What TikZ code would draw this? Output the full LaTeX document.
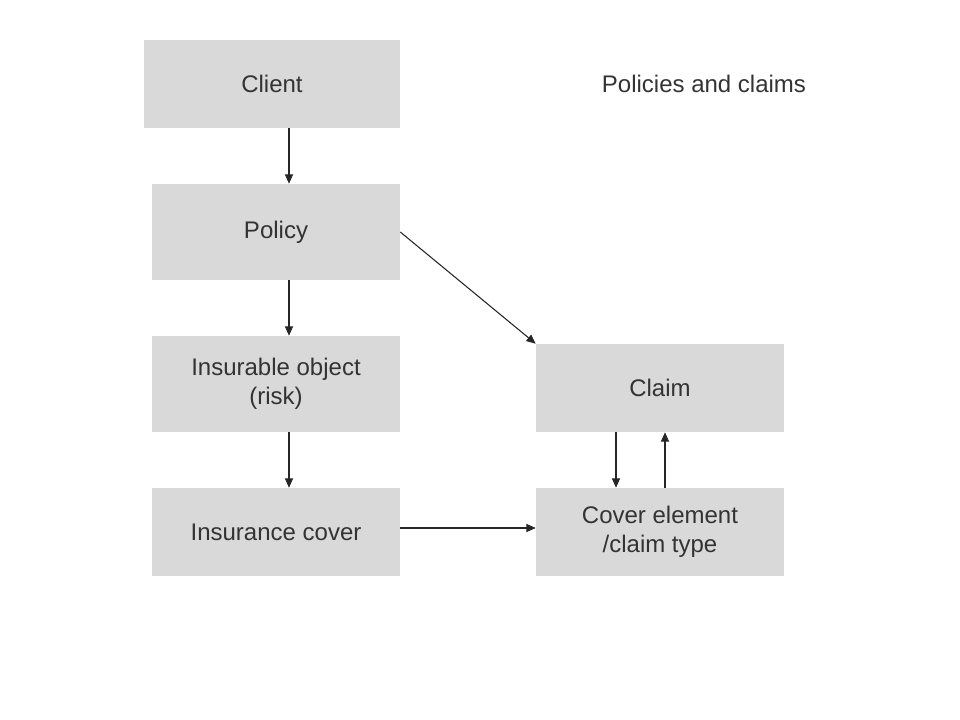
\documentclass[tikz,border=0pt]{standalone}
\usepackage{fontspec}
\setmainfont{Liberation Sans}
\usetikzlibrary{arrows.meta,calc}
\definecolor{boxgray}{HTML}{D9D9D9}
\definecolor{txt}{HTML}{333333}
\definecolor{ln}{HTML}{262626}
\begin{document}
\begin{tikzpicture}[x=0.75pt,y=-0.75pt,
  box/.style={fill=boxgray,draw=none,inner sep=0pt,align=center,text=txt,font=\fontsize{18}{22}\selectfont},
  arr/.style={draw=ln,line width=0.8pt,-{Triangle[length=7pt,width=6pt]}}]
\useasboundingbox (0,0) rectangle (960,720);
\node[box,minimum width=256*0.75pt,minimum height=88*0.75pt] (client) at (272,84) {Client};
\node[box,minimum width=248*0.75pt,minimum height=96*0.75pt] (policy) at (276,232) {Policy};
\node[box,minimum width=248*0.75pt,minimum height=96*0.75pt] (object) at (276,384) {Insurable object\\(risk)};
\node[box,minimum width=248*0.75pt,minimum height=88*0.75pt] (cover) at (276,532) {Insurance cover};
\node[box,minimum width=248*0.75pt,minimum height=88*0.75pt] (claim) at (660,388) {Claim};
\node[box,minimum width=248*0.75pt,minimum height=88*0.75pt] (element) at (660,532) {Cover element\\/claim type};
\node[text=txt,font=\fontsize{18}{22}\selectfont,inner sep=0pt] (title) at (704,84) {Policies and claims};
\draw[arr] ($(client.south)+(17,0)$) -- ($(policy.north)+(13,0)$);
\draw[arr] ($(policy.south)+(13,0)$) -- ($(object.north)+(13,0)$);
\draw[arr] ($(object.south)+(13,0)$) -- ($(cover.north)+(13,0)$);
\draw[arr] (policy.east) -- (claim.north west);
\draw[arr] ($(cover.east)+(0,-4)$) -- ($(element.west)+(0,-4)$);
\draw[arr] ($(claim.south)+(-44,0)$) -- ($(element.north)+(-44,0)$);
\draw[arr] ($(element.north)+(5,0)$) -- ($(claim.south)+(5,0)$);
\end{tikzpicture}
\end{document}
